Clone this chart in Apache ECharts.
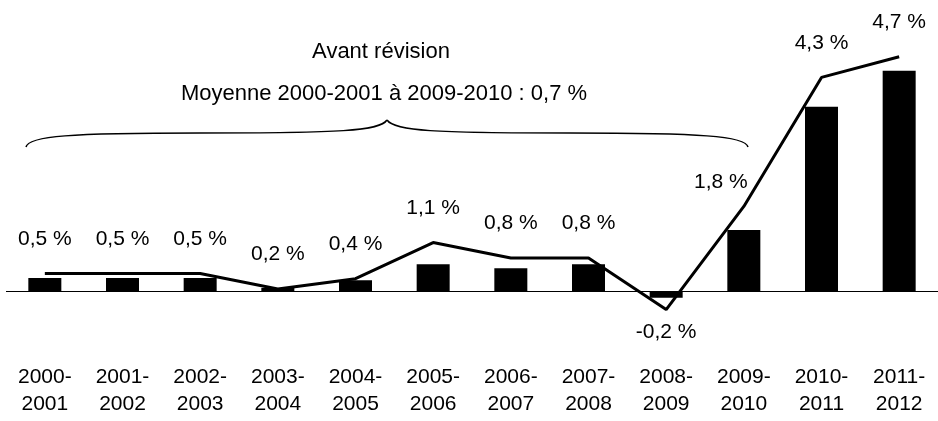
<!DOCTYPE html>
<html>
<head>
<meta charset="utf-8">
<script src="https://cdn.jsdelivr.net/npm/echarts@6/dist/echarts.min.js"></script>
<style>
  html, body { margin: 0; padding: 0; background: #fff; }
  #main { width: 938px; height: 421px; }
</style>
</head>
<body>
<div id="main"></div>
<script>
const categories = ['2000-\n2001', '2001-\n2002', '2002-\n2003', '2003-\n2004', '2004-\n2005', '2005-\n2006',
  '2006-\n2007', '2007-\n2008', '2008-\n2009', '2009-\n2010', '2010-\n2011', '2011-\n2012']
// bars (après révision)
const barValues = [0.25, 0.25, 0.25, 0.06, 0.21, 0.52, 0.44, 0.52, -0.13, 1.18, 3.57, 4.27]
// line (avant révision), as labelled
const lineValues = [0.5, 0.5, 0.5, 0.2, 0.4, 1.1, 0.8, 0.8, -0.2, 1.8, 4.3, 4.7]
const titleText = 'Avant révision'
const noteText = 'Moyenne 2000-2001 à 2009-2010 : 0,7 %'

const FONT = '"Liberation Sans", Arial, sans-serif'
const chart = echarts.init(document.getElementById('main'))

const fmt = v => v.toFixed(1).replace('.', ',') + ' %'

// a couple of labels sit off their default spot
function lineItem(v, i) {
  if (v < 0) return { value: v, label: { position: 'bottom', distance: 12 } }
  if (i === 9) return { value: v, label: { offset: [-23, 10] } }
  return v
}

const option = {
  animation: false,
  grid: { left: 6, right: 0, top: 40, bottom: 81 },
  xAxis: {
    type: 'category',
    data: categories,
    axisLine: { show: false, onZero: false },
    axisTick: { show: false },
    axisLabel: {
      color: '#000',
      fontFamily: FONT,
      fontSize: 21,
      lineHeight: 27.5,
      margin: 23,
      interval: 0
    }
  },
  yAxis: [
    { type: 'value', min: -0.95, max: 4.864, show: false, splitLine: { show: false } },
    { type: 'value', min: -0.789, max: 5.025, show: false, splitLine: { show: false } }
  ],
  series: [
    {
      type: 'bar',
      data: barValues,
      yAxisIndex: 0,
      barWidth: 33,
      itemStyle: { color: '#000' },
      markLine: {
        silent: true,
        symbol: 'none',
        label: { show: false },
        lineStyle: { color: '#000', width: 1, type: 'solid' },
        data: [{ yAxis: 0 }]
      }
    },
    {
      type: 'line',
      yAxisIndex: 1,
      data: lineValues.map(lineItem),
      symbol: 'circle',
      symbolSize: 0.1,
      showSymbol: true,
      lineStyle: { color: '#000', width: 3 },
      itemStyle: { color: '#000' },
      label: {
        show: true,
        position: 'top',
        distance: 24,
        color: '#000',
        fontFamily: FONT,
        fontSize: 21,
        formatter: p => fmt(p.value)
      }
    }
  ],
  graphic: [
    {
      type: 'text', x: 381, y: 52,
      style: { text: titleText, font: '22px ' + FONT, fill: '#000', textAlign: 'center', textVerticalAlign: 'middle' }
    },
    {
      type: 'text', x: 384, y: 94,
      style: { text: noteText, font: '22px ' + FONT, fill: '#000', textAlign: 'center', textVerticalAlign: 'middle' }
    },
    {
      type: 'bezierCurve',
      shape: { x1: 26, y1: 147, cpx1: 28, cpy1: 136, cpx2: 70, cpy2: 133, x2: 200, y2: 133 },
      style: { stroke: '#000', lineWidth: 1.5, fill: null }
    },
    {
      type: 'bezierCurve',
      shape: { x1: 200, y1: 133, cpx1: 340, cpy1: 133, cpx2: 380, cpy2: 131, x2: 387, y2: 120 },
      style: { stroke: '#000', lineWidth: 1.5, fill: null }
    },
    {
      type: 'bezierCurve',
      shape: { x1: 387, y1: 120, cpx1: 394, cpy1: 131, cpx2: 434, cpy2: 133, x2: 570, y2: 133 },
      style: { stroke: '#000', lineWidth: 1.5, fill: null }
    },
    {
      type: 'bezierCurve',
      shape: { x1: 570, y1: 133, cpx1: 700, cpy1: 133, cpx2: 746, cpy2: 136, x2: 748, y2: 147 },
      style: { stroke: '#000', lineWidth: 1.5, fill: null }
    }
  ]
}
chart.setOption(option)
</script>
</body>
</html>
